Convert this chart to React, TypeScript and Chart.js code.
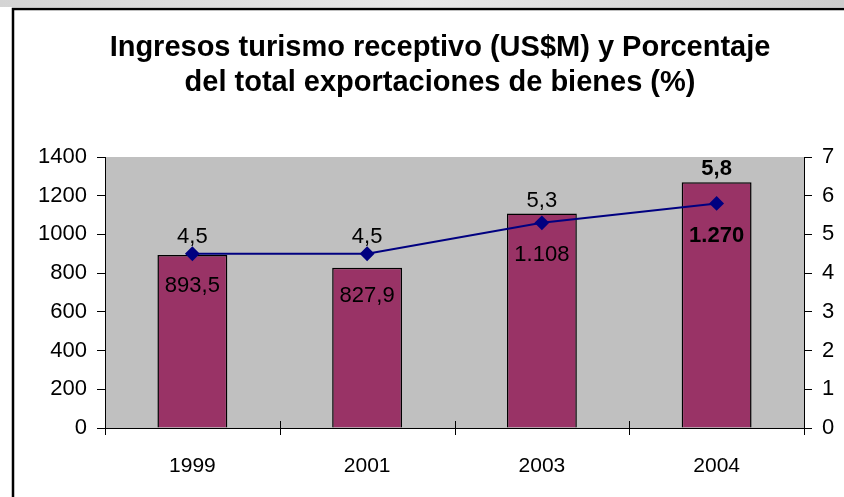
import React, { useEffect, useRef } from "react";
import { Chart, registerables } from "chart.js";

Chart.register(...registerables);

const categories = ["1999", "2001", "2003", "2004"];
const ingresos = [893.5, 827.9, 1108, 1270];
const porcentaje = [4.5, 4.5, 5.3, 5.8];
const ingresosLabels = ["893,5", "827,9", "1.108", "1.270"];
const porcentajeLabels = ["4,5", "4,5", "5,3", "5,8"];
const labelBold = [false, false, false, true];
const titleLines = [
  "Ingresos turismo receptivo (US$M) y Porcentaje",
  "del total exportaciones de bienes (%)",
];

const FONT = '"Liberation Sans", Arial, sans-serif';

const decorPlugin = {
  id: "decor",
  beforeDraw(chart: any) {
    const { ctx, chartArea, width, height } = chart;
    ctx.save();
    ctx.fillStyle = "#ffffff";
    ctx.fillRect(0, 0, width, height);
    const g = ctx.createLinearGradient(0, 0, width, 0);
    g.addColorStop(0, "#d4d4d4");
    g.addColorStop(0.5, "#e8e8e8");
    g.addColorStop(1, "#cccccc");
    ctx.fillStyle = g;
    ctx.fillRect(0, 0, width, 7);
    ctx.strokeStyle = "#000000";
    ctx.lineWidth = 2.5;
    ctx.beginPath();
    ctx.moveTo(13, height);
    ctx.lineTo(13, 9);
    ctx.lineTo(width + 5, 9);
    ctx.stroke();
    ctx.fillStyle = "#c0c0c0";
    ctx.fillRect(chartArea.left, chartArea.top, chartArea.right - chartArea.left, chartArea.bottom - chartArea.top);
    ctx.fillStyle = "#000000";
    ctx.font = `bold 29px ${FONT}`;
    ctx.textAlign = "center";
    ctx.textBaseline = "middle";
    ctx.fillText(titleLines[0], 440, 48);
    ctx.fillText(titleLines[1], 440, 83);
    ctx.restore();
  },
  afterDraw(chart: any) {
    const { ctx, chartArea, scales } = chart;
    const x = scales.x;
    const yL = scales.y;
    const yR = scales.y1;
    ctx.save();
    ctx.strokeStyle = "#000000";
    ctx.lineWidth = 1;
    const n = categories.length;
    const step = n > 1 ? x.getPixelForValue(1) - x.getPixelForValue(0) : chartArea.right - chartArea.left;
    for (let i = 0; i <= n; i++) {
      const px = Math.round(x.getPixelForValue(0) - step / 2 + i * step) + 0.5;
      ctx.beginPath();
      ctx.moveTo(px, chartArea.bottom - 7);
      ctx.lineTo(px, chartArea.bottom + 7);
      ctx.stroke();
    }
    ctx.fillStyle = "#000000";
    ctx.textAlign = "center";
    ctx.textBaseline = "middle";
    for (let i = 0; i < n; i++) {
      const cx = x.getPixelForValue(i);
      const barY = yL.getPixelForValue(ingresos[i]);
      const ptY = yR.getPixelForValue(porcentaje[i]);
      ctx.font = `${labelBold[i] ? "bold " : ""}22px ${FONT}`;
      ctx.fillText(porcentajeLabels[i], cx, Math.min(ptY - 17, barY - 13));
      ctx.fillText(ingresosLabels[i], cx, Math.max(barY + 28, ptY + 32));
    }
    ctx.restore();
  },
};

export default function App() {
  const ref = useRef<HTMLCanvasElement | null>(null);
  useEffect(() => {
    if (!ref.current) return;
    const chart = new Chart(ref.current, {
      type: "bar",
      data: {
        labels: categories,
        datasets: [
          {
            type: "line",
            label: "Porcentaje",
            data: porcentaje,
            yAxisID: "y1",
            borderColor: "#000080",
            backgroundColor: "#000080",
            borderWidth: 2,
            pointStyle: "rectRot",
            pointRadius: 6,
            pointBackgroundColor: "#000080",
            pointBorderColor: "#000080",
            tension: 0,
            order: 0,
          },
          {
            type: "bar",
            label: "Ingresos",
            data: ingresos,
            yAxisID: "y",
            backgroundColor: "#993366",
            borderColor: "#000000",
            borderWidth: 1.5,
            barPercentage: 0.4,
            categoryPercentage: 1,
            order: 1,
          },
        ],
      } as any,
      options: {
        responsive: false,
        animation: false,
        layout: { padding: { top: 157, left: 0, right: 0, bottom: 0 } },
        plugins: {
          legend: { display: false },
          title: { display: false },
          tooltip: { enabled: false },
        },
        scales: {
          x: {
            grid: { display: false },
            border: { display: true, color: "#000000", width: 1 },
            ticks: { color: "#000000", font: { family: FONT, size: 21 }, padding: 18, maxRotation: 0 },
            afterFit: (s: any) => { s.height = 69; },
          },
          y: {
            position: "left",
            min: 0,
            max: 1400,
            ticks: {
              stepSize: 200,
              color: "#000000",
              font: { family: FONT, size: 22 },
              padding: 10,
              callback: (v: any) => String(v),
            },
            grid: { drawOnChartArea: false, drawTicks: true, tickLength: 8, color: "#000000" },
            border: { display: true, color: "#000000", width: 1 },
            afterFit: (s: any) => { s.width = 105; },
          },
          y1: {
            position: "right",
            min: 0,
            max: 7,
            ticks: {
              stepSize: 1,
              color: "#000000",
              font: { family: FONT, size: 22 },
              padding: 10,
              callback: (v: any) => String(v),
            },
            grid: { drawOnChartArea: false, drawTicks: true, tickLength: 8, color: "#000000" },
            border: { display: true, color: "#000000", width: 1 },
            afterFit: (s: any) => { s.width = 40; },
          },
        },
      } as any,
      plugins: [decorPlugin],
    });
    return () => chart.destroy();
  }, []);
  return (
    <div style={{ position: "fixed", left: 0, top: 0, width: 844, height: 497, background: "#fff" }}>
      <canvas ref={ref} width={844} height={497} style={{ display: "block", width: 844, height: 497 }} />
    </div>
  );
}
